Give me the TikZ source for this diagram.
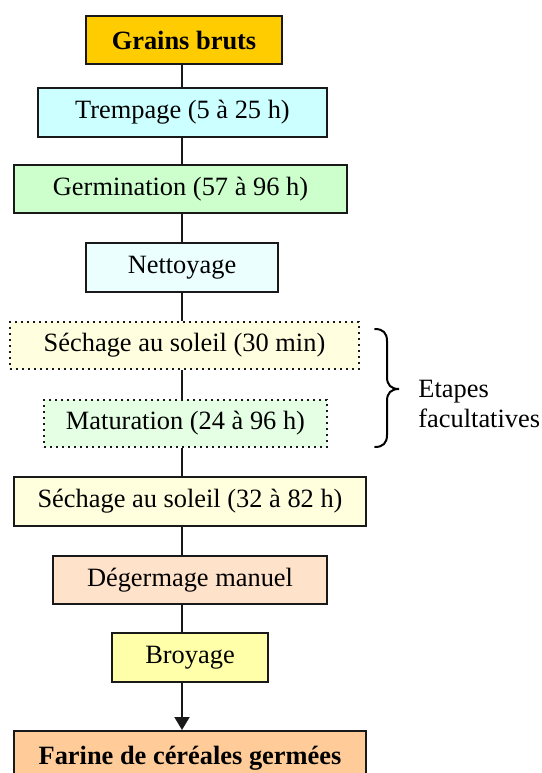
\documentclass[tikz,border=0pt]{standalone}
\usepackage{fontspec}
\setmainfont{Liberation Serif}
\usetikzlibrary{arrows.meta}

\definecolor{cGrains}{HTML}{FFCC00}
\definecolor{cTrempage}{HTML}{CCFFFF}
\definecolor{cGerm}{HTML}{CCFFCC}
\definecolor{cNett}{HTML}{EBFFFF}
\definecolor{cSechA}{HTML}{FFFFE0}
\definecolor{cMatur}{HTML}{E4FFE4}
\definecolor{cSechB}{HTML}{FFFFDD}
\definecolor{cDegerm}{HTML}{FFE2CA}
\definecolor{cBroy}{HTML}{FFFFAA}
\definecolor{cFarine}{HTML}{FFCC99}

\tikzset{
  stepbox/.style={draw=black!90, line width=1pt, inner sep=0pt,
    font=\fontsize{13.2}{16}\selectfont},
  optbox/.style={stepbox, dotted, line width=0.9pt},
  link/.style={line width=1pt, draw=black!90},
  note/.style={inner sep=0pt, font=\fontsize{13.2}{16}\selectfont}
}

\begin{document}
\begin{tikzpicture}[x=0.5pt, y=-0.5pt]
  \useasboundingbox (0,0) rectangle (542,773);
  \clip (0,0) rectangle (542,773);

  % vertical spine of the flow
  \coordinate (spine) at (182,0);

  \node[stepbox, fill=cGrains, minimum width=98pt, minimum height=24pt]
    (grains) at (184,40) {\textbf{Grains bruts}};
  \node[stepbox, fill=cTrempage, minimum width=144.5pt, minimum height=24.5pt]
    (tremp) at (182.5,112.5) {Trempage (5 à 25 h)};
  \node[stepbox, fill=cGerm, minimum width=166.5pt, minimum height=24pt]
    (germ) at (180.5,189) {Germination (57 à 96 h)};
  \node[stepbox, fill=cNett, minimum width=96pt, minimum height=24.5pt]
    (nett) at (182,267.5) {Nettoyage};
  \node[optbox, fill=cSechA, minimum width=174.5pt, minimum height=23.5pt]
    (secha) at (184.5,345.5) {Séchage au soleil (30 min)};
  \node[optbox, fill=cMatur, minimum width=141.5pt, minimum height=23.5pt]
    (matur) at (185.5,423.5) {Maturation (24 à 96 h)};
  \node[stepbox, fill=cSechB, minimum width=176pt, minimum height=24.5pt]
    (sechb) at (190,501.5) {Séchage au soleil (32 à 82 h)};
  \node[stepbox, fill=cDegerm, minimum width=137pt, minimum height=24pt]
    (degerm) at (190,580) {Dégermage manuel};
  \node[stepbox, fill=cBroy, minimum width=78pt, minimum height=24.5pt]
    (broy) at (190,657.5) {Broyage};
  \node[stepbox, fill=cFarine, minimum width=176pt, minimum height=27pt]
    (farine) at (190,758) {\textbf{Farine de céréales germées}};

  % connectors along the spine
  \draw[link] (grains.south -| spine) -- (tremp.north -| spine);
  \draw[link] (tremp.south -| spine) -- (germ.north -| spine);
  \draw[link] (germ.south -| spine) -- (nett.north -| spine);
  \draw[link] (nett.south -| spine) -- (secha.north -| spine);
  \draw[link] (secha.south -| spine) -- (matur.north -| spine);
  \draw[link] (matur.south -| spine) -- (sechb.north -| spine);
  \draw[link] (sechb.south -| spine) -- (degerm.north -| spine);
  \draw[link] (degerm.south -| spine) -- (broy.north -| spine);
  \draw[link, -{Triangle[width=7.5pt,length=6.5pt]}]
    (broy.south -| spine) -- (farine.north -| spine);

  % brace grouping the optional steps
  \draw[line width=1pt, line cap=round]
    (375,329) .. controls (383,329) and (387,333) .. (387,341)
    -- (387,377) .. controls (387,385) and (391,389) .. (399,389)
    .. controls (391,389) and (387,393) .. (387,401)
    -- (387,435) .. controls (387,443) and (383,447) .. (375,447);

  \node[note, anchor=base west] (optA) at (418,397) {Etapes};
  \node[note, anchor=base west] (optB) at (418,427) {facultatives};
\end{tikzpicture}
\end{document}
